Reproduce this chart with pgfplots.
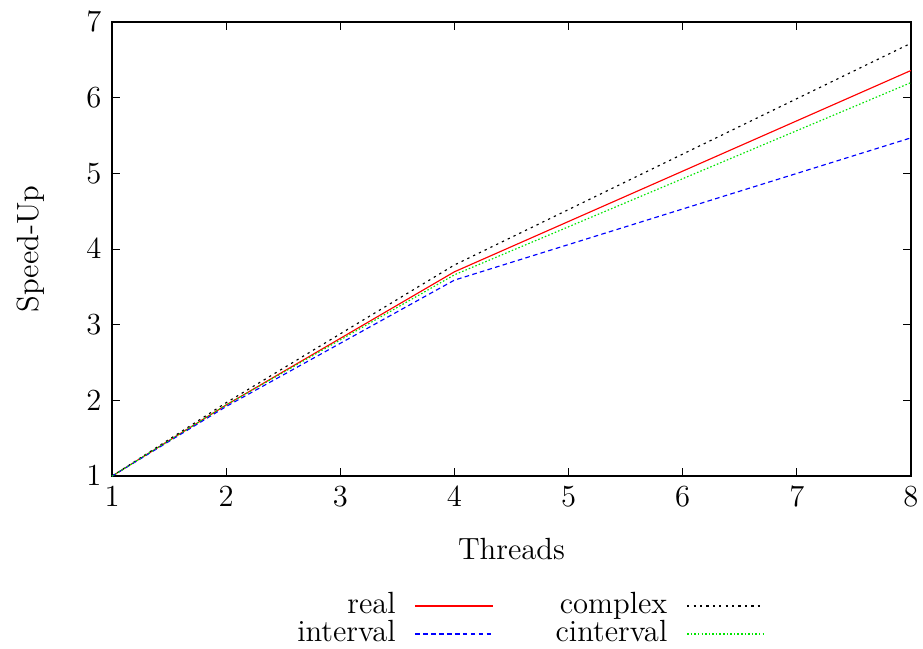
\documentclass[border=0pt,12pt]{standalone}
\usepackage{pgfplots}
\pgfplotsset{compat=1.18}
\definecolor{gpgreen}{rgb}{0,0.9,0}
\tikzset{
  sreal/.style={color=red, line width=0.45pt},
  scomplex/.style={color=black, line width=0.45pt, dash pattern=on 0.9bp off 1.6bp},
  sinterval/.style={color=blue, line width=0.45pt, dash pattern=on 1.8bp off 1.3bp},
  scinterval/.style={color=gpgreen, line width=0.45pt, dash pattern=on 0.6bp off 0.8bp},
  legtext/.style={anchor=east, inner sep=0pt, text depth=0.15em, text=black},
}
\begin{document}
\begin{tikzpicture}
\path[use as bounding box] (-43.7bp,-67.1bp) rectangle (316.3bp,185.7bp);
\begin{axis}[
  at={(0,0)}, anchor=south west,
  scale only axis, width=311.6bp, height=177.1bp,
  xmin=1, xmax=8, ymin=1, ymax=7,
  xtick={1,...,8}, ytick={1,...,7},
  tick align=inside, major tick length=3bp,
  axis line style={line width=0.5pt},
  every tick/.style={black, line width=0.4pt},
  xlabel={Threads}, ylabel={Speed-Up},
  xlabel style={yshift=-4bp},
  ylabel style={yshift=8bp},
  clip=false,
]
\addplot[sreal] coordinates {(1,1)(2,1.94)(4,3.70)(8,6.36)};
\addplot[scomplex] coordinates {(1,1)(2,1.97)(4,3.79)(8,6.72)};
\addplot[sinterval] coordinates {(1,1)(2,1.92)(4,3.59)(8,5.47)};
\addplot[scinterval] coordinates {(1,1)(2,1.94)(4,3.66)(8,6.20)};
% legend
\node[legtext] at (axis cs:3.49,-0.70) {real};
\draw[sreal] (axis cs:3.656,-0.717) -- (axis cs:4.339,-0.717);
\node[legtext] at (axis cs:5.87,-0.70) {complex};
\draw[scomplex] (axis cs:6.039,-0.717) -- (axis cs:6.705,-0.717);
\node[legtext] at (axis cs:3.49,-1.07) {interval};
\draw[sinterval] (axis cs:3.656,-1.087) -- (axis cs:4.339,-1.087);
\node[legtext] at (axis cs:5.87,-1.07) {cinterval};
\draw[scinterval] (axis cs:6.039,-1.087) -- (axis cs:6.705,-1.087);
\end{axis}
\end{tikzpicture}
\end{document}
